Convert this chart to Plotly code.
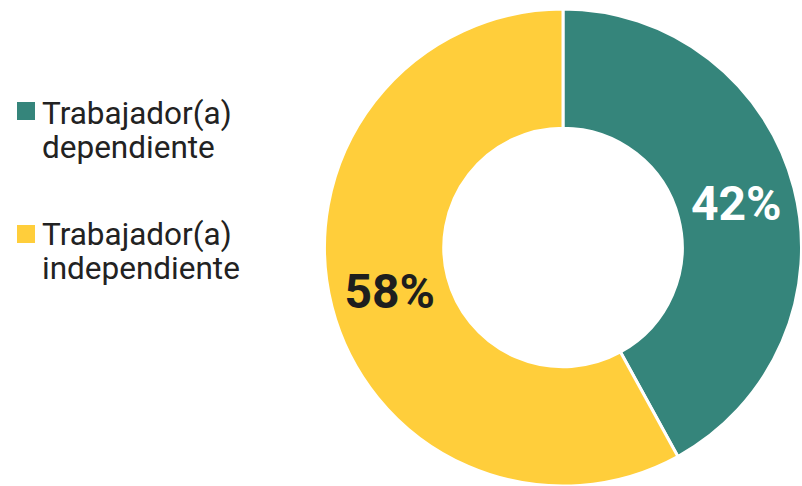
import plotly.graph_objects as go

labels = ["Trabajador(a) dependiente", "Trabajador(a) independiente"]
legend_lines = [["Trabajador(a)", "dependiente"], ["Trabajador(a)", "independiente"]]
values = [42, 58]
colors = ["#35857B", "#FFCE3B"]
text_colors = ["#FFFFFF", "#1E1E1E"]

W, H = 802, 486

def px(x):
    return x / W

def py(y):
    return 1 - y / H

fig = go.Figure(go.Pie(
    labels=labels,
    values=values,
    hole=0.5,
    sort=False,
    direction="clockwise",
    rotation=0,
    marker=dict(colors=colors, line=dict(color="white", width=3)),
    texttemplate="%{value}%",
    textposition="inside",
    insidetextorientation="horizontal",
    textfont=dict(family="Roboto", size=48, color=text_colors, weight="bold"),
    domain=dict(x=[px(324), px(802)], y=[py(486), py(9)]),
    showlegend=False,
    hoverinfo="label+percent",
))

# manual legend (square + two text lines per item)
sq_tops = [102, 225]
baselines = [[124, 158], [245, 279]]
for i, lines in enumerate(legend_lines):
    fig.add_shape(type="rect", xref="paper", yref="paper",
                  x0=px(17), x1=px(35), y0=py(sq_tops[i] + 18), y1=py(sq_tops[i]),
                  fillcolor=colors[i], line=dict(width=0))
    for j, line in enumerate(lines):
        fig.add_annotation(xref="paper", yref="paper", x=px(40),
                           y=py(baselines[i][j] - 10.8),
                           xanchor="left", yanchor="middle", align="left",
                           text=line, showarrow=False,
                           font=dict(family="Roboto", size=31.5, color="#222222"))

fig.update_layout(
    width=W, height=H,
    margin=dict(l=0, r=0, t=0, b=0),
    paper_bgcolor="white",
    plot_bgcolor="white",
    font=dict(family="Roboto"),
)

fig.write_html("out.html", config={"displayModeBar": False},
               post_script="document.body.style.margin='0';")
